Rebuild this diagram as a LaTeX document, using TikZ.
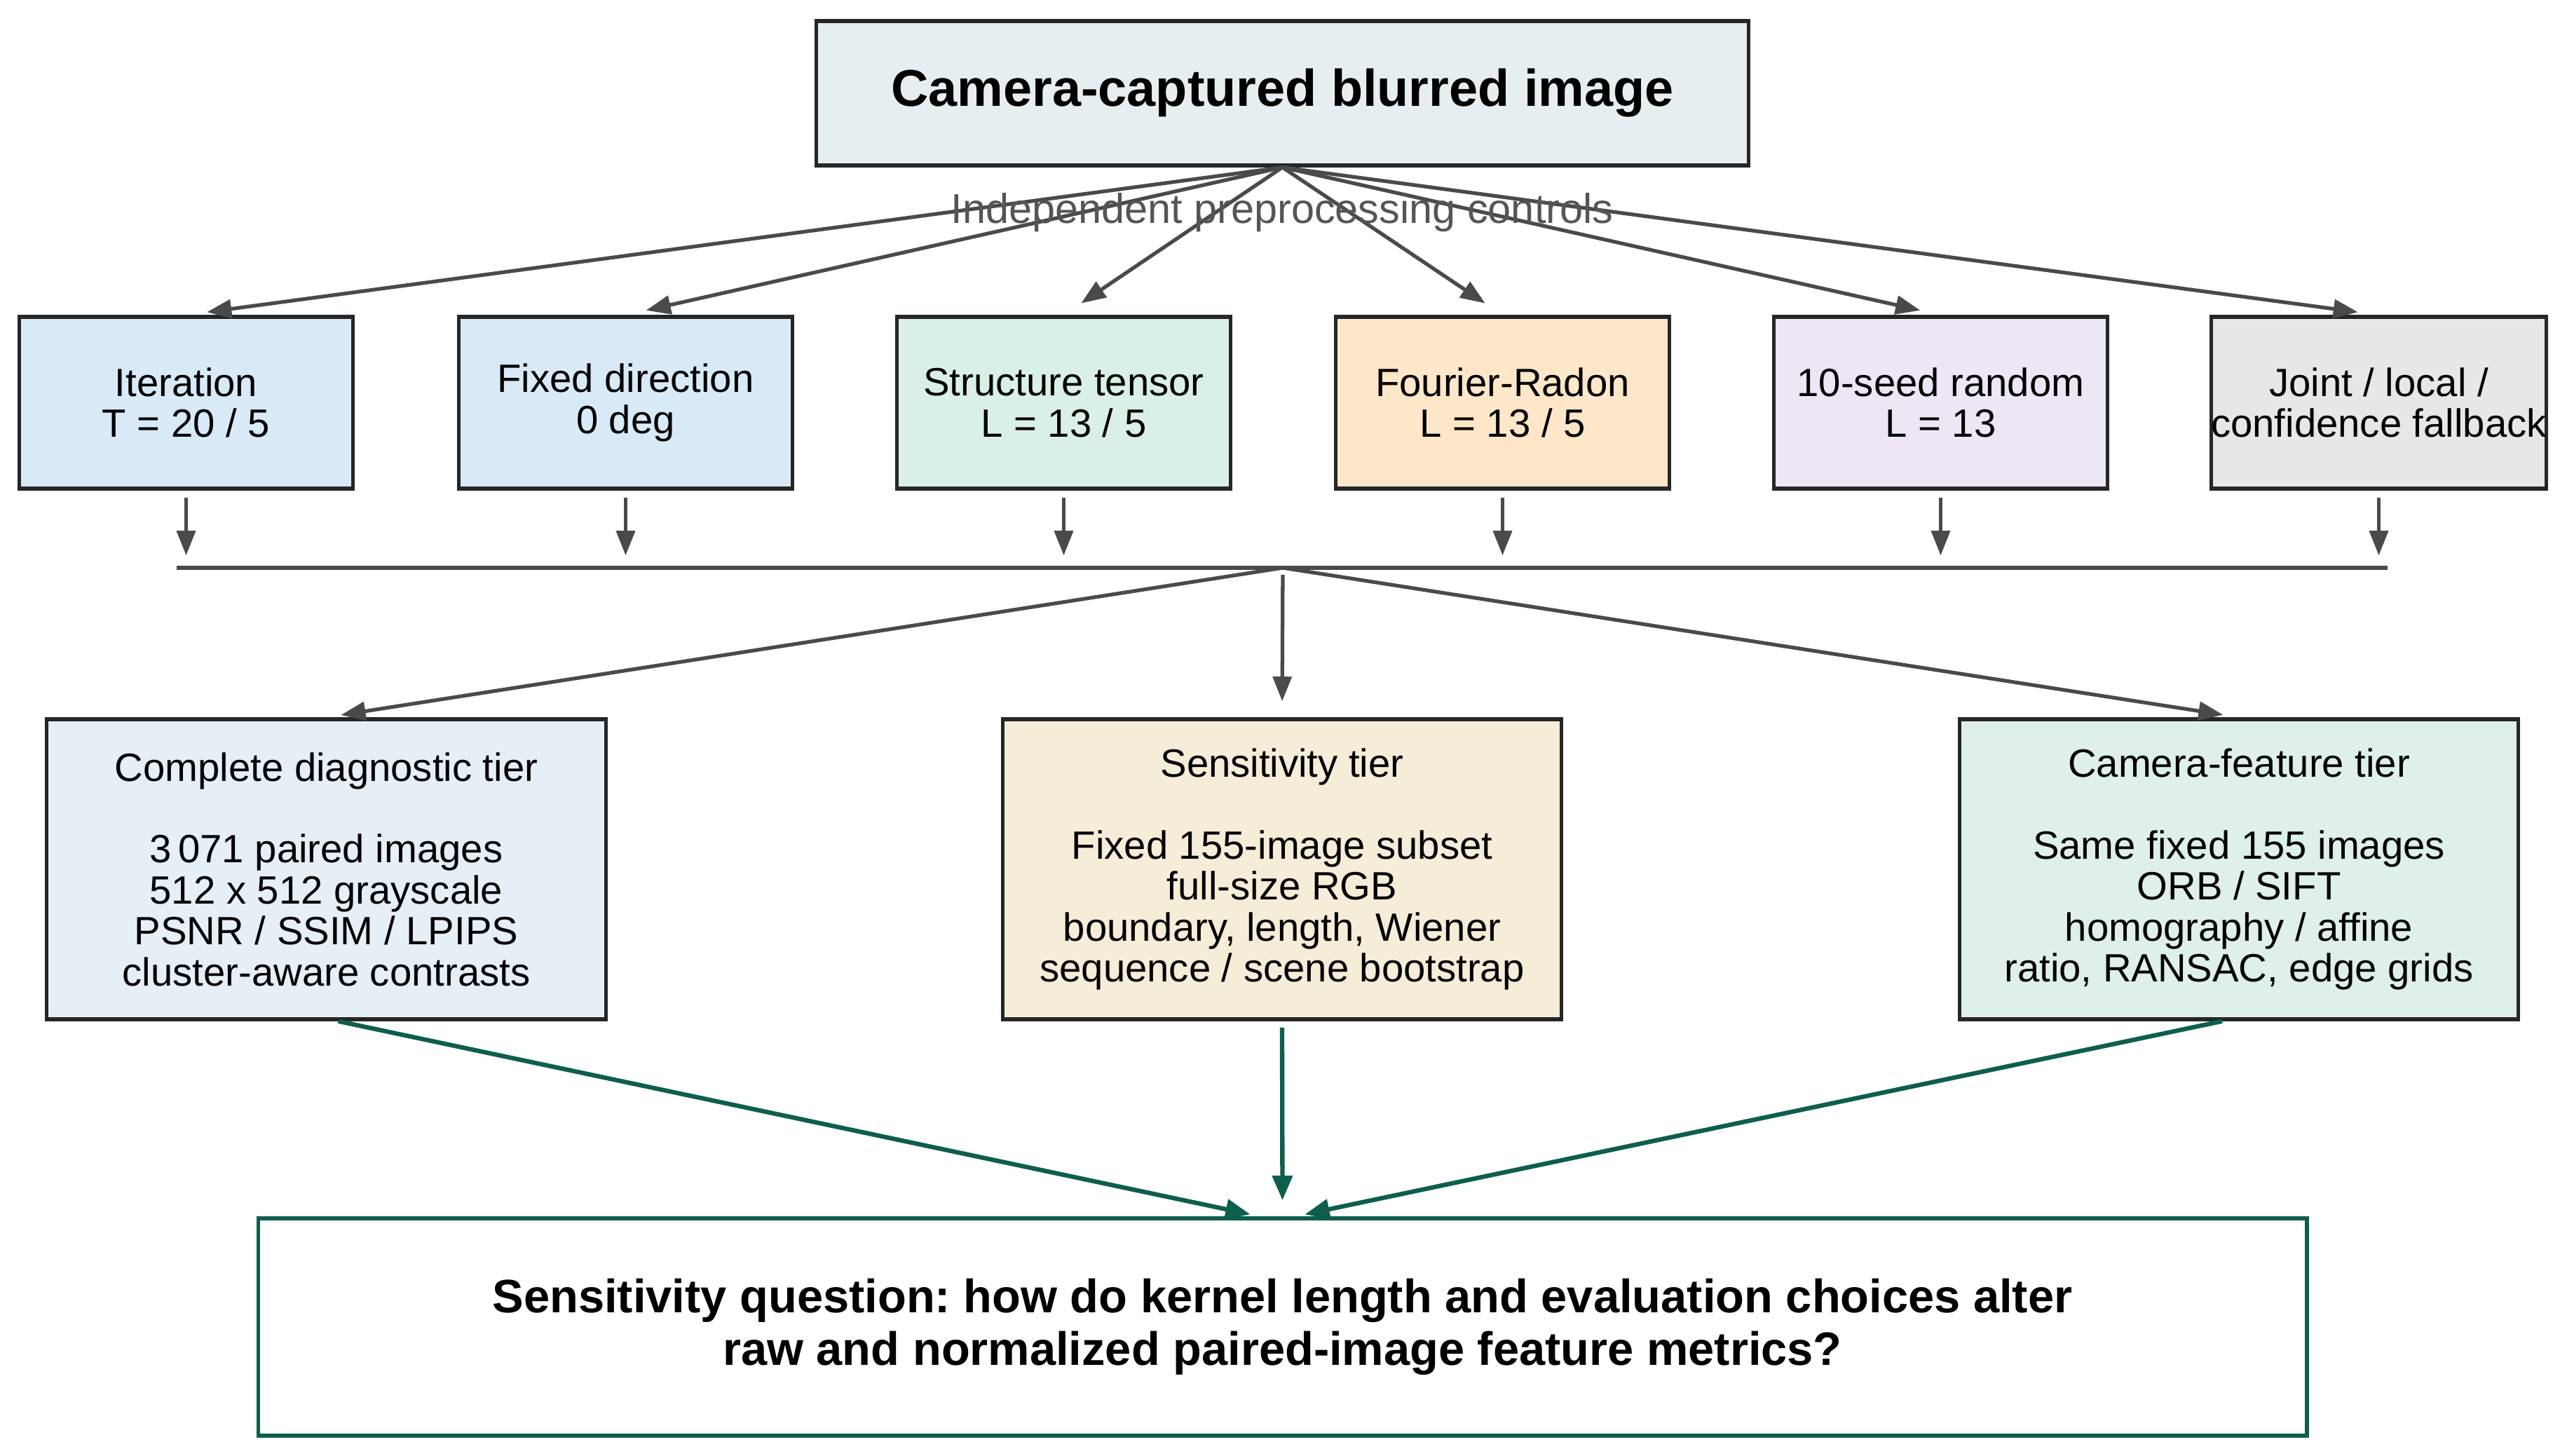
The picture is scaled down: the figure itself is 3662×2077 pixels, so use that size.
\documentclass[tikz,border=0pt]{standalone}
\usepackage{fontspec}
\setmainfont{Liberation Sans}
\usetikzlibrary{arrows.meta,calc}
\frenchspacing
\definecolor{topfill}{HTML}{E7EEF2}
\definecolor{bluefill}{HTML}{D8EAF6}
\definecolor{greenfill}{HTML}{D9F0E6}
\definecolor{orangefill}{HTML}{FDE7C8}
\definecolor{purplefill}{HTML}{EEE6F4}
\definecolor{grayfill}{HTML}{E7E7E7}
\definecolor{tierblue}{HTML}{E6EEF6}
\definecolor{tiercream}{HTML}{F6EDD8}
\definecolor{tiergreen}{HTML}{DFEFEA}
\definecolor{boxline}{HTML}{262626}
\definecolor{arrowgray}{HTML}{4A4A4A}
\definecolor{darkgreen}{HTML}{0E5E4E}
\definecolor{labelgray}{HTML}{555555}
\begin{document}
\begin{tikzpicture}[x=0.01cm,y=-0.01cm,
  box/.style={draw=boxline, line width=1.5pt, inner sep=0pt, align=center, text=black,
    font=\fontsize{16}{16.6}\selectfont},
  smallbox/.style={box, minimum width=4.76cm, minimum height=2.45cm},
  tierbox/.style={box, minimum width=7.97cm, minimum height=4.28cm},
  garrow/.style={draw=arrowgray, line width=1.5pt, -{Triangle[length=10pt,width=7.5pt]}, fill=arrowgray},
  gline/.style={draw=arrowgray, line width=1.5pt},
  grarrow/.style={draw=darkgreen, line width=1.8pt, -{Triangle[length=10pt,width=8pt]}, fill=darkgreen}
]
\useasboundingbox (0,0) rectangle (3662,2077);

% top node
\node[box, fill=topfill, minimum width=13.29cm, minimum height=2.06cm,
  font=\bfseries\fontsize{21}{25}\selectfont] (top) at (1829.5,133) {Camera-captured blurred image};

% preprocessing controls
\node[smallbox, fill=bluefill]   (b1) at (265.5,574.5)  {Iteration\\T = 20 / 5};
\node[smallbox, fill=bluefill]   (b2) at (892.5,574.5)  {Fixed direction\\0 deg};
\node[smallbox, fill=greenfill]  (b3) at (1517.5,574.5) {Structure tensor\\L = 13 / 5};
\node[smallbox, fill=orangefill] (b4) at (2143.5,574.5) {Fourier-Radon\\L = 13 / 5};
\node[smallbox, fill=purplefill] (b5) at (2768.5,574.5) {10-seed random\\L = 13};
\node[smallbox, fill=grayfill]   (b6) at (3393.5,574.5) {Joint / local /\\confidence fallback};

% bus
\coordinate (busL) at (252,810);
\coordinate (busR) at (3406,810);
\coordinate (bus) at (1830,810);

% tiers
\node[tierbox, fill=tierblue]  (t1) at (465.5,1240) {Complete diagnostic tier\\[16.6pt]3\,071 paired images\\512 x 512 grayscale\\PSNR / SSIM / LPIPS\\cluster-aware contrasts};
\node[tierbox, fill=tiercream] (t2) at (1829,1240) {Sensitivity tier\\[16.6pt]Fixed 155-image subset\\full-size RGB\\boundary, length, Wiener\\sequence / scene bootstrap};
\node[tierbox, fill=tiergreen] (t3) at (3194,1240) {Camera-feature tier\\[16.6pt]Same fixed 155 images\\ORB / SIFT\\homography / affine\\ratio, RANSAC, edge grids};

% question
\node[draw=darkgreen, line width=1.5pt, fill=white, inner sep=0pt, align=center,
  minimum width=29.21cm, minimum height=3.10cm,
  font=\bfseries\fontsize{19}{21.3}\selectfont] (q) at (1829.5,1893)
  {Sensitivity question: how do kernel length and evaluation choices alter\\raw and normalized paired-image feature metrics?};

% fan from top
\foreach \n in {b1,b2,b3,b4,b5,b6}
  \draw[garrow, shorten >=8.5pt] (top.south) -- (\n.north);

% label
\node[text=labelgray, anchor=base, inner sep=0pt, font=\fontsize{16.9}{18}\selectfont] (lbl) at (1829,319) {Independent preprocessing controls};

% drops to bus
\foreach \n in {b1,b2,b3,b4,b5,b6}
  \draw[garrow, shorten <=2.8pt, shorten >=5pt] (\n.south) -- (\n.south |- bus);
\draw[gline] (busL) -- (busR);

% fan from bus
\draw[garrow, shorten >=6pt] (bus) -- (t1.north);
\draw[garrow, shorten <=2.8pt, shorten >=6.5pt] (bus) -- (t2.north);
\draw[garrow, shorten >=6.5pt] (bus) -- (t3.north);

% into question
\draw[grarrow] ($(t1.south)+(17,0)$) -- ($(q.north)+(-46,-3)$);
\draw[grarrow] ($(t2.south)+(0,9)$) -- ($(q.north)+(0,-23)$);
\draw[grarrow] ($(t3.south)+(-24,0)$) -- ($(q.north)+(32,-3)$);
\end{tikzpicture}
\end{document}
